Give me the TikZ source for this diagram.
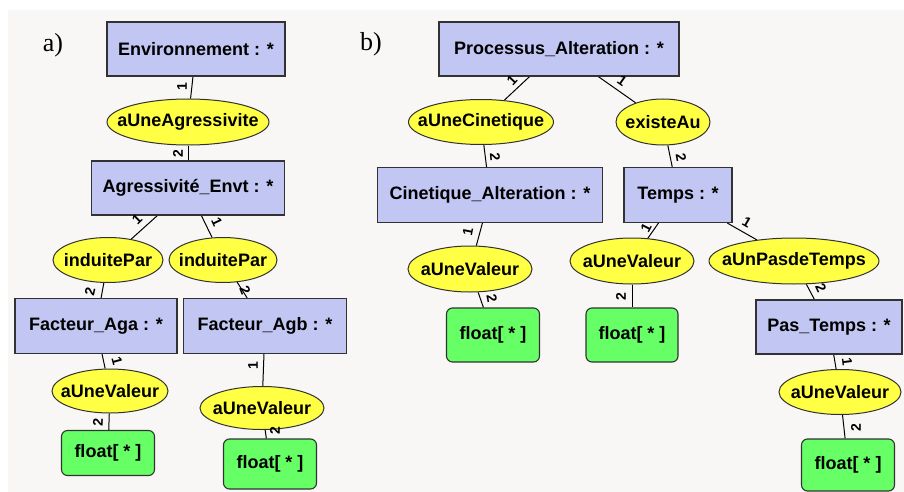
\documentclass[tikz,border=0pt]{standalone}
\usepackage{fontspec}
\setmainfont{Liberation Sans}
\newfontfamily\panelfont{Liberation Serif}
\usetikzlibrary{shapes.geometric,backgrounds}
\definecolor{bgc}{RGB}{248,247,245}
\definecolor{boxfill}{RGB}{194,198,242}
\definecolor{ellfill}{RGB}{255,255,68}
\definecolor{grnfill}{RGB}{102,255,102}
\definecolor{edgec}{RGB}{50,50,50}
\newcommand{\zt}[1]{\makebox[0pt]{#1}}
\begin{document}
\begin{tikzpicture}[x=1pt,y=-1pt,
  every node/.style={font=\fontsize{18}{20}\selectfont\bfseries},
  cbox/.style={draw=edgec, fill=boxfill, line width=1.1pt, inner sep=0pt, rectangle},
  rel/.style={draw=edgec, fill=ellfill, line width=1pt, inner sep=0pt, ellipse},
  lit/.style={draw=edgec, fill=grnfill, line width=1.1pt, inner sep=0pt, rectangle, rounded corners=6pt},
  con/.style={draw=black, line width=1pt},
  lab/.style={font=\fontsize{14}{14}\selectfont\bfseries, inner sep=0pt},
  panel/.style={font=\fontsize{26}{28}\selectfont\panelfont, inner sep=0pt}]
\useasboundingbox (0,0) rectangle (904,492);

% ---------- panel a ----------
\node[panel] (pa) at (53,45) {a)};
\node[cbox, minimum width=178pt, minimum height=54pt] (env) at (196,49) {Environnement : *};
\node[rel, minimum width=162pt, minimum height=46pt] (aag) at (188,122) {\zt{aUneAgressivite}};
\node[cbox, minimum width=193pt, minimum height=54pt] (agr) at (188,188) {Agressivité\_Envt : *};
\node[rel, minimum width=110pt, minimum height=45pt] (ipl) at (108,260) {\zt{induitePar}};
\node[rel, minimum width=108pt, minimum height=45pt] (ipr) at (223,260) {\zt{induitePar}};
\node[cbox, minimum width=162pt, minimum height=55pt] (aga) at (96,326) {Facteur\_Aga : *};
\node[cbox, minimum width=163pt, minimum height=55pt] (agb) at (265,326) {Facteur\_Agb : *};
\node[rel, minimum width=116pt, minimum height=44pt] (avl) at (110,391) {\zt{aUneValeur}};
\node[rel, minimum width=124pt, minimum height=43pt] (avr) at (262,408) {\zt{aUneValeur}};
\node[lit, minimum width=93pt, minimum height=45pt] (fl) at (108,453) {float[ * ]};
\node[lit, minimum width=93pt, minimum height=50pt] (fr) at (270,464) {float[ * ]};

% ---------- panel b ----------
\node[panel] (pb) at (371,44) {b)};
\node[cbox, minimum width=240pt, minimum height=54pt] (proc) at (559,49) {Processus\_Alteration : *};
\node[rel, minimum width=145pt, minimum height=45pt] (acin) at (481,122) {\zt{aUneCinetique}};
\node[rel, minimum width=94pt, minimum height=46pt] (exist) at (663,122) {\zt{existeAu}};
\node[cbox, minimum width=225pt, minimum height=55pt] (cin) at (490,195) {Cinetique\_Alteration : *};
\node[cbox, minimum width=108pt, minimum height=55pt] (temps) at (678,195) {Temps : *};
\node[rel, minimum width=124pt, minimum height=46pt] (av1) at (470,269) {\zt{aUneValeur}};
\node[rel, minimum width=124pt, minimum height=46pt] (av2) at (632,261) {\zt{aUneValeur}};
\node[rel, minimum width=170pt, minimum height=46pt] (apas) at (794,261) {\zt{aUnPasdeTemps}};
\node[lit, minimum width=93pt, minimum height=54pt] (f1) at (493,335) {float[ * ]};
\node[lit, minimum width=92pt, minimum height=54pt] (f2) at (632,335) {float[ * ]};
\node[cbox, minimum width=146pt, minimum height=54pt] (pas) at (829,327) {Pas\_Temps : *};
\node[rel, minimum width=122pt, minimum height=45pt] (av3) at (840,392) {\zt{aUneValeur}};
\node[lit, minimum width=93pt, minimum height=52pt] (f3) at (848,465) {float[ * ]};

% ---------- background and connectors ----------
\begin{pgfonlayer}{background}
\fill[white] (0,0) rectangle (904,492);
\fill[bgc] (8,10) rectangle (904,492);
\draw[con] (env) -- (aag);
\draw[con] (aag) -- (agr);
\draw[con] (agr) -- (ipl);
\draw[con] (agr) -- (ipr);
\draw[con] (ipl) -- (aga);
\draw[con] (ipr) -- (agb);
\draw[con] (aga) -- (avl);
\draw[con] (agb) -- (avr);
\draw[con] (avl) -- (fl);
\draw[con] (avr) -- (fr);
\draw[con] (proc) -- (acin);
\draw[con] (proc) -- (exist);
\draw[con] (acin) -- (cin);
\draw[con] (exist) -- (temps);
\draw[con] (cin) -- (av1);
\draw[con] (av1) -- (f1);
\draw[con] (temps) -- (av2);
\draw[con] (av2) -- (f2);
\draw[con] (temps) -- (apas);
\draw[con] (apas) -- (pas);
\draw[con] (pas) -- (av3);
\draw[con] (av3) -- (f3);
\end{pgfonlayer}

% ---------- edge labels ----------
\node[lab, rotate=90] (l1) at (182,87) {1};
\node[lab, rotate=90] (l2) at (178,154) {2};
\node[lab, rotate=44] (l3) at (137,219) {1};
\node[lab, rotate=-65] (l4) at (217,222) {1};
\node[lab, rotate=77] (l5) at (90,292) {2};
\node[lab, rotate=-68] (l6) at (245,290) {2};
\node[lab, rotate=-75] (l7) at (117,361) {1};
\node[lab, rotate=87] (l8) at (98,422) {2};
\node[lab, rotate=90] (l9) at (253,366) {1};
\node[lab, rotate=90] (l10) at (275,431) {2};
\node[lab, rotate=47] (l11) at (512,80) {1};
\node[lab, rotate=-35] (l12) at (622,81) {1};
\node[lab, rotate=-85] (l13) at (495,157) {2};
\node[lab, rotate=-80] (l14) at (681,157) {2};
\node[lab, rotate=79] (l15) at (468,232) {1};
\node[lab, rotate=-79] (l16) at (492,298) {2};
\node[lab, rotate=63] (l17) at (646,228) {1};
\node[lab, rotate=90] (l18) at (621,297) {2};
\node[lab, rotate=-30] (l19) at (747,222) {1};
\node[lab, rotate=-65] (l20) at (821,288) {2};
\node[lab, rotate=-83] (l21) at (847,362) {1};
\node[lab, rotate=90] (l22) at (856,428) {2};
\end{tikzpicture}
\end{document}
